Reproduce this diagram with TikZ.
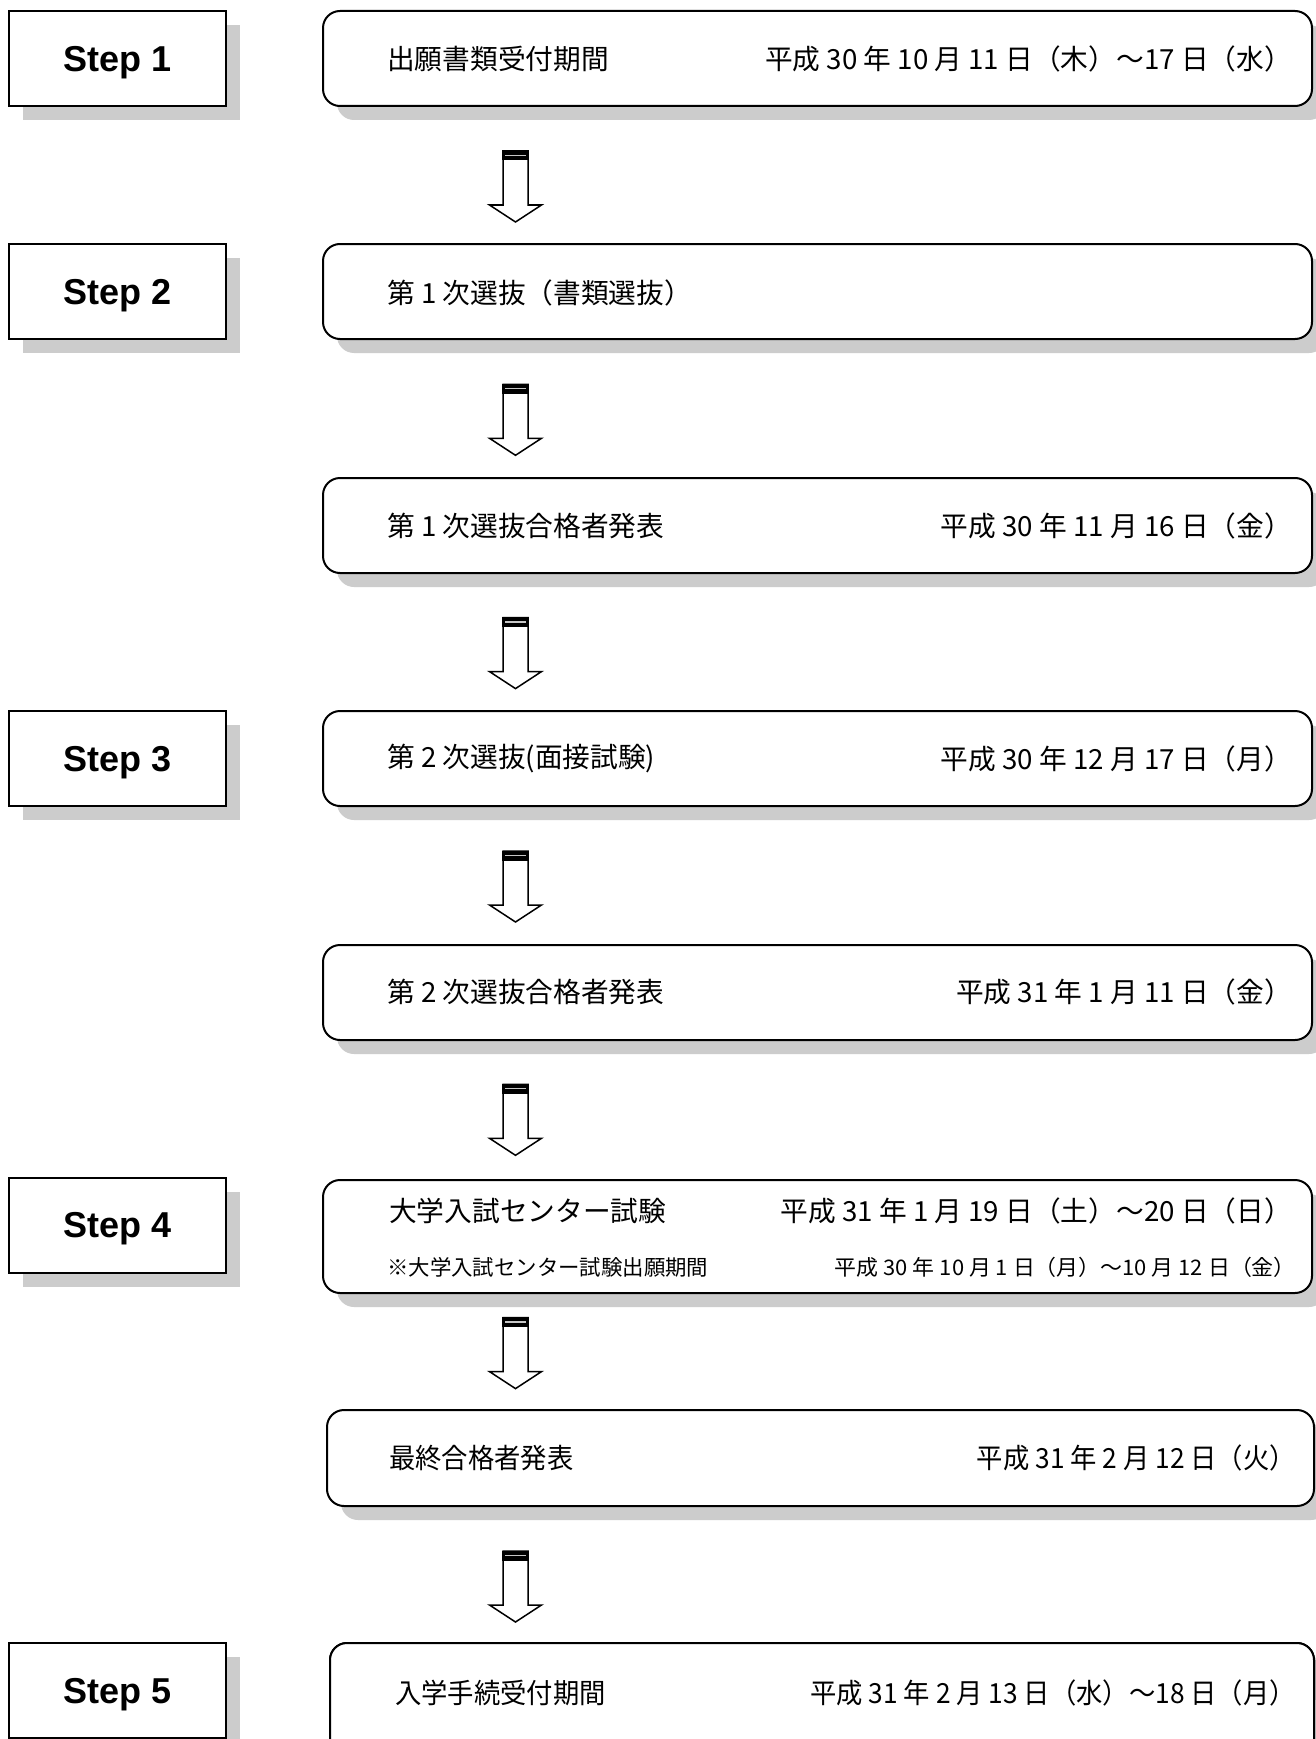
\documentclass[tikz,border=0pt]{standalone}
\usepackage{fontspec}
\setmainfont{Liberation Sans}
\newfontfamily\jp{Noto Sans CJK JP}
\definecolor{shadowgray}{RGB}{204,204,204}
\newcommand{\narrowtxt}[1]{\scalebox{0.95}[1]{#1}}
\begin{document}
\begin{tikzpicture}[x=1pt,y=-1pt,
  stepbox/.style={draw=black, line width=2pt, fill=white, minimum width=217pt, minimum height=95pt, inner sep=0pt,
    text depth=0pt, font=\fontsize{36}{40}\selectfont\bfseries},
  mainbox/.style={draw=black, line width=2pt, rounded corners=17pt, fill=white, inner sep=0pt},
  jtext/.style={inner sep=0pt, font=\jp\fontsize{27.7}{30}\selectfont},
  jsmall/.style={inner sep=0pt, font=\jp\fontsize{21.4}{24}\selectfont},
  blockarrow/.pic={
    \draw[line width=1.5pt, fill=white, line join=miter] (-12.5,0) -- (-12.5,54) -- (-26,54) -- (0,71) -- (26,54) -- (12.5,54) -- (12.5,0) -- cycle;
    \fill[black] (-13.25,-0.5) rectangle (13.25,9.5);
    \draw[gray!45, line width=1.3pt] (-10.5,4.5) -- (10.5,4.5);
  }]
\clip (0,0) rectangle (1316,1739);
\fill[white] (0,0) rectangle (1316,1739);

% ---- step boxes ----
\foreach \n/\cy in {1/58.5, 2/291.5, 3/758.5, 4/1225, 5/1690.5} {
  \fill[shadowgray] (9+14,\cy-47.5+14) rectangle (226+14,\cy+47.5+14);
  \node[stepbox] (s\n) at (117.5,\cy) {Step \n};
}

% ---- main boxes ----
\foreach \n/\xl/\xr/\yt/\yb in {1/323/1312/11/106, 2/323/1312/244/339, 3/323/1312/478/573, 4/323/1312/711/806,
   5/323/1312/945/1040, 6/323/1312/1180/1293, 7/327/1314/1410/1506, 8/330/1314/1643/1739} {
  \fill[shadowgray, rounded corners=17pt] (\xl+14,\yt+14) rectangle (\xr+14,\yb+14);
  \node[mainbox, minimum width={\xr-\xl}, minimum height={\yb-\yt}] (r\n) at ({(\xl+\xr)/2},{(\yt+\yb)/2}) {};
}
% row 8 box continues beyond the page bottom: redraw sides without a bottom edge
\fill[shadowgray] (344,1700) rectangle (1316,1760);
\draw[line width=2pt, fill=white, rounded corners=17pt] (330,1760) -- (330,1643) -- (1314,1643) -- (1314,1760);

% ---- texts ----
\node[jtext, anchor=west] (t1) at (387,59) {出願書類受付期間};
\node[jtext, anchor=east] (d1) at (1292,59) {平成 30 年 10 月 11 日（木）～17 日（水）};

\node[jtext, anchor=west] (t2) at (387,293) {第 1 次選抜（書類選抜）};

\node[jtext, anchor=west] (t3) at (387,526) {第 1 次選抜合格者発表};
\node[jtext, anchor=east] (d3) at (1292,526) {平成 30 年 11 月 16 日（金）};

\node[jtext, anchor=west] (t4) at (387,759) {第 2 次選抜(面接試験)};
\node[jtext, anchor=east] (d4) at (1292,759) {平成 30 年 12 月 17 日（月）};

\node[jtext, anchor=west] (t5) at (387,992) {第 2 次選抜合格者発表};
\node[jtext, anchor=east] (d5) at (1292,992) {平成 31 年 1 月 11 日（金）};

\node[jtext, anchor=west] (t6) at (389,1211) {大学入試センター試験};
\node[jtext, anchor=east] (d6) at (1292,1211) {平成 31 年 1 月 19 日（土）～20 日（日）};
\node[jsmall, anchor=west] (t6b) at (387,1267) {※大学入試センター試験出願期間};
\node[jsmall, anchor=east] (d6b) at (1296,1267) {\scalebox{1.025}[1]{平成 30 年 10 月 1 日（月）～10 月 12 日（金）}};

\node[jtext, anchor=west] (t7) at (389,1458) {\narrowtxt{最終合格者発表}};
\node[jtext, anchor=east] (d7) at (1296,1458) {\narrowtxt{平成 31 年 2 月 12 日（火）}};

\node[jtext, anchor=west] (t8) at (395,1693) {\narrowtxt{入学手続受付期間}};
\node[jtext, anchor=east] (d8) at (1296,1693) {\narrowtxt{平成 31 年 2 月 13 日（水）～18 日（月）}};

% ---- block arrows ----
\foreach \k/\ay in {1/151, 2/384.3, 3/617.6, 4/851, 5/1084.3, 6/1317.6, 7/1551} {
  \pic (a\k) at (515.5,\ay) {blockarrow};
}
\end{tikzpicture}
\end{document}
